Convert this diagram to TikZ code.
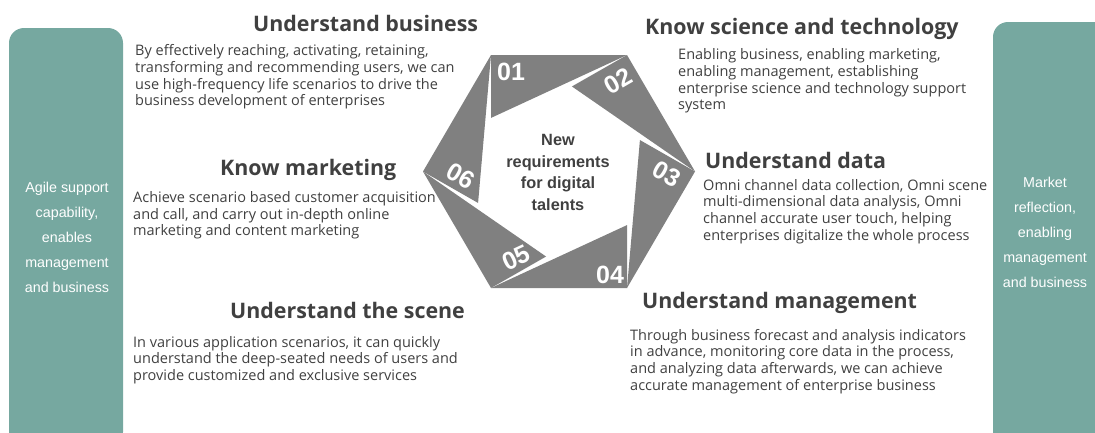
\documentclass[tikz,border=0pt]{standalone}
\usepackage{fontspec}
\setmainfont{Open Sans}
\newfontfamily\arialf{Liberation Sans}
\usetikzlibrary{calc}
\definecolor{tealbox}{RGB}{118,168,160}
\definecolor{piece}{RGB}{128,128,128}
\definecolor{txt}{RGB}{64,64,64}
\tikzset{
 sidebox/.style={fill=tealbox, rounded corners=15pt},
 sidetext/.style={text=white, font=\arialf\fontsize{14.3}{25}\selectfont, align=center, inner sep=0pt},
 head/.style={text=txt, font=\bfseries\fontsize{21.4}{24}\selectfont, anchor=west, inner sep=0pt},
 body/.style={text=txt, font=\fontsize{14.5}{16.7}\selectfont, anchor=west, align=left, inner sep=0pt},
 num/.style={text=white, font=\arialf\bfseries\fontsize{25}{25}\selectfont, inner sep=0pt},
 seg/.style={fill=piece},
 centertext/.style={text=txt, font=\arialf\bfseries\fontsize{16.3}{21.5}\selectfont, align=center, inner sep=0pt}
}
\begin{document}
\begin{tikzpicture}[x=1pt,y=-1pt]
\useasboundingbox (0,0) rectangle (1095,432);
\clip (0,0) rectangle (1095,432);
% side boxes
\fill[sidebox] (9,28) rectangle (123,447);
\fill[sidebox] (993,22) rectangle (1120,447);
\node[sidetext] (lefttxt) at (67,237) {Agile support\\capability,\\enables\\management\\and business};
\node[sidetext] (righttxt) at (1045,232) {Market\\reflection,\\enabling\\management\\and business};
% hexagon vertices
\coordinate (TL) at (491,55);
\coordinate (TR) at (627,55);
\coordinate (R) at (695,171.5);
\coordinate (BR) at (627,288);
\coordinate (BL) at (491,288);
\coordinate (L) at (423,171.5);
\coordinate (P1) at ($(TL)!0.27!(BL)$);
\coordinate (P2) at ($(TR)!0.27!(L)$);
\coordinate (P3) at ($(R)!0.27!(TL)$);
\coordinate (P4) at ($(BR)!0.27!(TR)$);
\coordinate (P5) at ($(BL)!0.27!(R)$);
\coordinate (P6) at ($(L)!0.27!(BR)$);
\fill[seg] (TL) -- (TR) -- (P1) -- cycle;
\fill[seg] (TR) -- (R) -- (P2) -- cycle;
\fill[seg] (R) -- (BR) -- (P3) -- cycle;
\fill[seg] (BR) -- (BL) -- (P4) -- cycle;
\fill[seg] (BL) -- (L) -- (P5) -- cycle;
\fill[seg] (L) -- (TL) -- (P6) -- cycle;
\node[num] (n01) at (511,72) {01};
\node[num, rotate=30] (n02) at (618,81) {02};
\node[num, rotate=-30] (n03) at (667,174) {03};
\node[num] (n04) at (610,275) {04};
\node[num, rotate=25] (n05) at (516,258) {05};
\node[num, rotate=-30] (n06) at (461,176) {06};
\node[centertext] (center) at (558,172.5) {New\\requirements\\for digital\\talents};
% texts
\node[head] (h1) at (253,23) {Understand business};
\node[body] (b1) at (135,77) {By effectively reaching, activating, retaining,\\transforming and recommending users, we can\\use high-frequency life scenarios to drive the\\business development of enterprises};
\node[head] (h2) at (645,29) {Know science and technology};
\node[body] (b2) at (678,81) {Enabling business, enabling marketing,\\enabling management, establishing\\enterprise science and technology support\\system};
\node[head] (h3) at (705,160) {Understand data};
\node[body] (b3) at (703,211.5) {Omni channel data collection, Omni scene\\multi-dimensional data analysis, Omni\\channel accurate user touch, helping\\enterprises digitalize the whole process};
\node[head] (h4) at (642,303) {Understand management};
\node[body] (b4) at (630,361.5) {Through business forecast and analysis indicators\\in advance, monitoring core data in the process,\\and analyzing data afterwards, we can achieve\\accurate management of enterprise business};
\node[head] (h5) at (230,310) {Understand the scene};
\node[body] (b5) at (133,360) {In various application scenarios, it can quickly\\understand the deep-seated needs of users and\\provide customized and exclusive services};
\node[head] (h6) at (220,170) {Know marketing};
\node[body] (b6) at (133,215.5) {Achieve scenario based customer acquisition\\and call, and carry out in-depth online\\marketing and content marketing};
\end{tikzpicture}
\end{document}
